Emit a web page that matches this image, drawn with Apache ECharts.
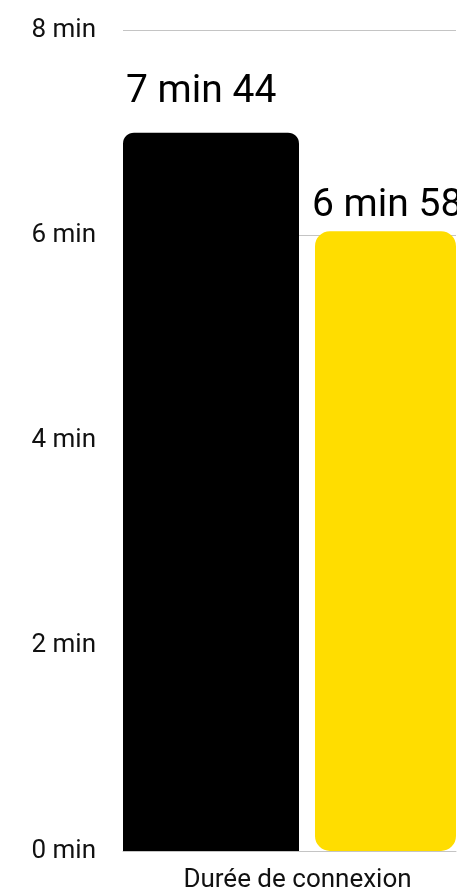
<!DOCTYPE html>
<html>
<head>
<meta charset="utf-8">
<script src="https://cdn.jsdelivr.net/npm/echarts@6/dist/echarts.min.js"></script>
<style>
html,body{margin:0;padding:0;background:#fff;overflow:hidden;}
#chart{width:457px;height:890px;}
</style>
</head>
<body>
<div id="chart"></div>
<script>
// Data
const categories = ['Durée de connexion'];
const seriesAValues = [7.0];      // black bar (minutes, as drawn)
const seriesBValues = [6.04];     // yellow bar (minutes, as drawn)
const seriesALabels = ['7 min 44'];
const seriesBLabels = ['6 min 58'];
const yTicks = [0, 2, 4, 6, 8];
const yTickLabels = ['0 min', '2 min', '4 min', '6 min', '8 min'];

const FONT = 'Roboto';
const chart = echarts.init(document.getElementById('chart'), null, {renderer: 'canvas'});

chart.setOption({
  animation: false,
  backgroundColor: '#fff',
  grid: {left: 123, right: 1, top: 30, bottom: 39, containLabel: false, outerBoundsMode: 'none'},
  xAxis: {
    type: 'category',
    data: categories,
    axisLine: {show: true, lineStyle: {color: '#c4c4c4', width: 1}},
    axisTick: {show: false},
    axisLabel: {
      color: '#111', fontFamily: FONT, fontSize: 26, margin: 16,
      padding: [0, 0, 0, 16]
    }
  },
  yAxis: {
    type: 'value',
    min: yTicks[0],
    max: yTicks[yTicks.length - 1],
    interval: 2,
    axisLine: {show: false},
    axisTick: {show: false},
    axisLabel: {
      color: '#111', fontFamily: FONT, fontSize: 26, margin: 27,
      padding: [4, 0, 0, 0],
      formatter: function (v) { const i = yTicks.indexOf(v); return i >= 0 ? yTickLabels[i] : ''; }
    },
    splitLine: {
      show: true,
      lineStyle: {
        width: 1,
        color: ['rgba(0,0,0,0)', 'rgba(0,0,0,0)', 'rgba(0,0,0,0)', '#c4c4c4', '#c4c4c4']
      }
    }
  },
  series: [
    {
      type: 'bar',
      data: seriesAValues,
      barWidth: 176,
      barGap: '9.09%',
      itemStyle: {color: '#000000', borderRadius: [11, 11, 0, 0]},
      label: {
        show: true,
        position: [3, -40],
        align: 'left',
        verticalAlign: 'middle',
        lineHeight: 39,
        fontFamily: FONT,
        fontSize: 39,
        color: '#000',
        formatter: function (p) { return seriesALabels[p.dataIndex]; }
      }
    },
    {
      type: 'bar',
      data: seriesBValues,
      barWidth: 141,
      itemStyle: {color: '#FFDD00', borderRadius: [15, 15, 15, 15]},
      label: {
        show: true,
        position: [-3, -25],
        align: 'left',
        verticalAlign: 'middle',
        lineHeight: 39,
        fontFamily: FONT,
        fontSize: 39,
        color: '#000',
        formatter: function (p) { return seriesBLabels[p.dataIndex]; }
      }
    }
  ]
});
</script>
</body>
</html>
